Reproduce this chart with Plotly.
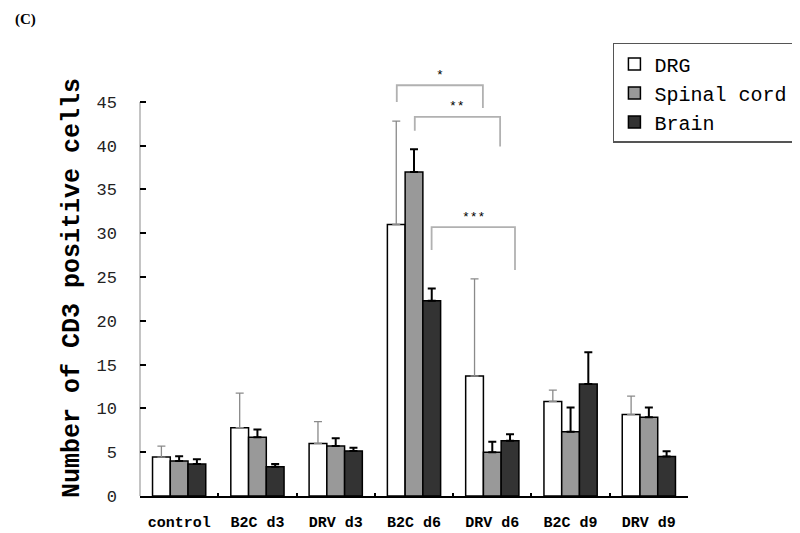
import plotly.graph_objects as go

# dados
grupos = ['control', 'B2C d3', 'DRV d3', 'B2C d6', 'DRV d6', 'B2C d9', 'DRV d9']
drg = [4.45, 7.8, 6.0, 31.0, 13.7, 10.8, 9.3]
drg_err = [1.25, 3.95, 2.5, 11.8, 11.1, 1.3, 2.1]
medula = [4.0, 6.7, 5.7, 37.0, 5.0, 7.35, 9.0]
medula_err = [0.55, 0.9, 0.9, 2.6, 1.2, 2.75, 1.1]
cerebro = [3.65, 3.35, 5.15, 22.3, 6.3, 12.8, 4.5]
cerebro_err = [0.55, 0.3, 0.35, 1.4, 0.75, 3.6, 0.6]

# colchetes de significancia: (x0, x1, topo, perna esq, perna dir, texto)
colchetes = [
    (2.78, 3.88, 46.9, 45.0, 44.3, '*'),
    (3.01, 4.10, 43.3, 41.7, 39.9, '**'),
    (3.225, 4.29, 30.7, 28.1, 25.8, '***'),
]

fonte = 'Liberation Mono'

fig = go.Figure()

series = [
    ('DRG', drg, drg_err, 'white', '#8a8a8a', 1.3),
    ('Spinal cord', medula, medula_err, '#999999', 'black', 2),
    ('Brain', cerebro, cerebro_err, '#333333', 'black', 2),
]
for nome, vals, errs, cor, cor_err, esp in series:
    fig.add_trace(go.Bar(
        x=grupos,
        y=vals,
        name=nome,
        marker=dict(color=cor, line=dict(color='black', width=1.5)),
        error_y=dict(type='data', array=errs, arrayminus=[0] * len(errs),
                     symmetric=False, color=cor_err, thickness=esp, width=4),
    ))

# eixo y desenhado a mao (0 a 45)
fig.add_shape(type='line', xref='paper', yref='y', x0=0, x1=0, y0=0, y1=45,
              line=dict(color='black', width=1.5))

for x0, x1, topo, esq, dir_, txt in colchetes:
    fig.add_shape(type='path', xref='x', yref='y',
                  path=f'M {x0},{esq} L {x0},{topo} L {x1},{topo} L {x1},{dir_}',
                  fillcolor='rgba(0,0,0,0)',
                  line=dict(color='black', width=1.8))
    fig.add_annotation(x=(x0 + x1) / 2, y=topo, text=txt, showarrow=False,
                       yshift=10, font=dict(family=fonte, size=13, color='black'))

fig.add_annotation(text='<b>(C)</b>', xref='paper', yref='paper', x=-0.232, y=1.145,
                   xanchor='left', yanchor='middle', showarrow=False,
                   font=dict(family='Liberation Serif', size=15, color='black'))

fig.update_layout(
    width=792,
    height=525,
    template='simple_white',
    paper_bgcolor='white',
    plot_bgcolor='white',
    barmode='group',
    bargap=0.32,
    bargroupgap=0,
    margin=dict(l=132, r=112, t=72, b=37, autoexpand=False),
    legend=dict(
        x=0.863, y=1.089, xanchor='left', yanchor='top',
        bordercolor='#555555', borderwidth=1.5,
        font=dict(family=fonte, size=20, color='black'),
        tracegroupgap=0,
    ),
    showlegend=True,
)

fig.update_xaxes(
    showline=True, linecolor='black', linewidth=1.5,
    ticks='inside', tickson='boundaries', ticklen=3, tickwidth=1.5, tickcolor='black',
    tickfont=dict(family=fonte, size=15, color='black', weight='bold'),
    tickangle=0,
    ticklabelstandoff=11,
)

fig.update_yaxes(
    range=[0, 47.5], showline=False, showgrid=False, zeroline=False,
    tickmode='array', tickvals=list(range(0, 46, 5)),
    ticks='inside', ticklen=6, tickwidth=1.5, tickcolor='black',
    tickfont=dict(family=fonte, size=17, color='#222222'),
    ticklabelstandoff=22,
    title=dict(text='Number of CD3 positive cells\u00a0\u00a0', standoff=9,
               font=dict(family=fonte, size=25, color='black', weight='bold')),
)

fig.write_html('out.html')
